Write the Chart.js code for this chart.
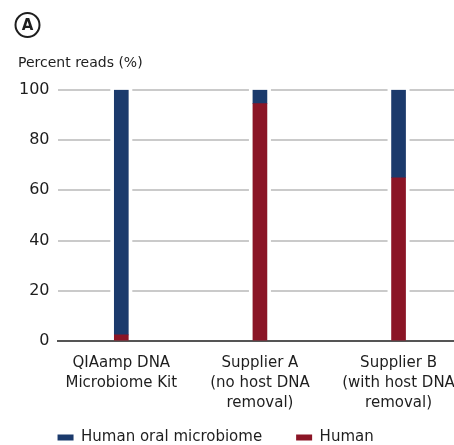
<!DOCTYPE html>
<html>
<head>
<meta charset="utf-8">
<script src="https://cdn.jsdelivr.net/npm/chart.js@4.4.0/dist/chart.umd.min.js"></script>
<style>
  html, body { margin: 0; padding: 0; background: #fff; }
  #wrap { width: 454px; height: 445px; }
</style>
</head>
<body>
<div id="wrap"><canvas id="myChart"></canvas></div>
<script>
// data
let kits = [
    ['QIAamp DNA', 'Microbiome Kit'],
    ['Supplier A', '(no host DNA', 'removal)'],
    ['Supplier B', '(with host DNA', 'removal)']
];
let kitPos = [1, 2, 3];
let humanReads = [2.5, 94.5, 65];
let oralReads = [97.5, 5.5, 35];
let yTicks = [0, 20, 40, 60, 80, 100];

const FONT = 'DejaVu Sans';
const TEXT = '#1e1e1e';

function points(vals) {
    let out = [];
    for (let i = 0; i < vals.length; i++) {
        out.push({ x: kitPos[i], y: vals[i] });
    }
    return out;
}

// circled "A" panel mark
const panelMark = {
    id: 'panelMark',
    afterDraw(chart) {
        let ctx = chart.ctx;
        ctx.save();
        ctx.strokeStyle = TEXT;
        ctx.lineWidth = 2;
        ctx.beginPath();
        ctx.arc(27.5, 25, 12, 0, Math.PI * 2);
        ctx.stroke();
        ctx.fillStyle = TEXT;
        ctx.font = 'bold 15px ' + FONT;
        ctx.textAlign = 'center';
        ctx.textBaseline = 'middle';
        ctx.fillText('A', 27.5, 26);
        ctx.restore();
    }
};

// white gaps in the gridlines around each bar
const gridGaps = {
    id: 'gridGaps',
    beforeDatasetsDraw(chart) {
        let ctx = chart.ctx;
        let area = chart.chartArea;
        let meta = chart.getDatasetMeta(0);
        ctx.save();
        ctx.fillStyle = '#fff';
        meta.data.forEach(bar => {
            ctx.fillRect(bar.x - bar.width / 2 - 4, area.top - 3, bar.width + 8, area.bottom - area.top + 1);
        });
        ctx.restore();
    }
};

// legend: wide gap between items, pulled up into the spare room and flush with the axis
const legendPlace = {
    id: 'legendPlace',
    afterLayout(chart) {
        let lg = chart.legend;
        let pad = lg.options.labels.padding;
        lg.left -= pad;
        lg.right -= pad;
        lg.top -= 29;
        lg.bottom -= 29;
    }
};

let ctx = document.getElementById('myChart').getContext('2d');
let config = {
    type: 'bar',
    data: {
        datasets: [{
            label: 'Human',
            data: points(humanReads),
            backgroundColor: '#8b1526'
        }, {
            label: 'Human oral microbiome',
            data: points(oralReads),
            backgroundColor: '#1b3a6c'
        }]
    },
    options: {
        responsive: true,
        maintainAspectRatio: false,
        animation: false,
        barThickness: 14,
        layout: { padding: { left: 18, right: 0, top: 0, bottom: -39 } },
        plugins: {
            title: {
                display: true,
                text: 'Percent reads (%)',
                align: 'start',
                color: TEXT,
                font: { family: FONT, size: 14, weight: 'normal' },
                padding: { top: 55, bottom: 18 }
            },
            legend: {
                position: 'bottom',
                align: 'start',
                fullSize: false,
                labels: {
                    color: TEXT,
                    font: { family: FONT, size: 15 },
                    boxWidth: 16,
                    boxHeight: 6,
                    padding: 34,
                    sort: (a, b) => b.datasetIndex - a.datasetIndex
                }
            },
            tooltip: { enabled: false }
        },
        scales: {
            x: {
                type: 'linear',
                stacked: true,
                offset: false,
                min: 0.54,
                max: 3.4,
                afterBuildTicks: axis => { axis.ticks = kitPos.map(v => ({ value: v })); },
                afterFit: axis => { axis.paddingLeft = 0; axis.paddingRight = 0; },
                grid: { display: false, drawTicks: false },
                border: { display: true, color: '#555', width: 2 },
                ticks: {
                    color: TEXT,
                    font: { family: FONT, size: 15, lineHeight: 1.33 },
                    padding: 12,
                    maxRotation: 0,
                    autoSkip: false,
                    callback: v => kits[kitPos.indexOf(v)]
                }
            },
            y: {
                stacked: true,
                min: 0,
                max: 100,
                afterBuildTicks: axis => { axis.ticks = yTicks.map(v => ({ value: v })); },
                afterFit: axis => { axis.width -= 7; },
                grid: { color: '#cacaca', lineWidth: 2, drawTicks: false },
                border: { display: false },
                ticks: {
                    color: TEXT,
                    font: { family: FONT, size: 16 },
                    padding: 8
                }
            }
        }
    },
    plugins: [panelMark, gridGaps, legendPlace]
};
let myChart = new Chart(ctx, config);
</script>
</body>
</html>
